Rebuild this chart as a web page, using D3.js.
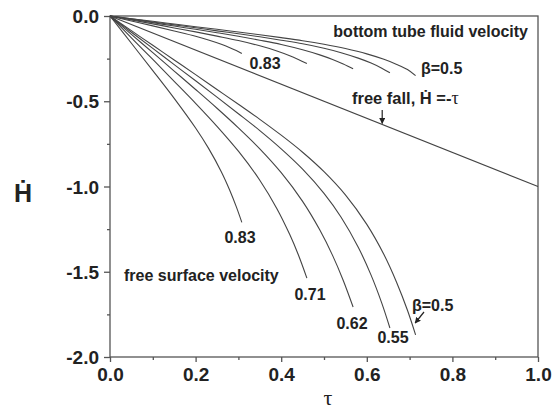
<!DOCTYPE html>
<html><head><meta charset="utf-8">
<script src="https://cdn.jsdelivr.net/npm/d3@7"></script>
<style>body{margin:0;background:#fff}svg{display:block}</style>
</head><body>
<svg id="c" width="559" height="410"></svg>
<script>
// ---- data ----
const betas = ["0.83", "0.71", "0.62", "0.55", "0.5"];
// free surface velocity curves [tau, Hdot]
const surf083 = [[0,0],[0.05,-0.160],[0.1,-0.320],[0.15,-0.483],[0.2,-0.657],[0.23,-0.775],[0.26,-0.913],[0.28,-1.023],[0.295,-1.118],[0.308,-1.210]];
const surf071 = [[0,0],[0.05,-0.128],[0.1,-0.255],[0.15,-0.383],[0.2,-0.512],[0.25,-0.647],[0.3,-0.793],[0.35,-0.963],[0.39,-1.130],[0.42,-1.282],[0.44,-1.400],[0.46,-1.537]];
const surf062 = [[0,0],[0.05,-0.108],[0.1,-0.215],[0.15,-0.323],[0.2,-0.431],[0.25,-0.541],[0.3,-0.656],[0.35,-0.779],[0.4,-0.919],[0.45,-1.087],[0.49,-1.254],[0.52,-1.404],[0.545,-1.551],[0.568,-1.707]];
const surf055 = [[0,0],[0.05,-0.095],[0.1,-0.190],[0.15,-0.285],[0.2,-0.380],[0.25,-0.476],[0.3,-0.573],[0.35,-0.672],[0.4,-0.779],[0.45,-0.898],[0.5,-1.040],[0.54,-1.180],[0.58,-1.356],[0.61,-1.520],[0.635,-1.684],[0.654,-1.830]];
const surf050 = [[0,0],[0.05,-0.086],[0.1,-0.172],[0.15,-0.258],[0.2,-0.344],[0.25,-0.431],[0.3,-0.518],[0.35,-0.606],[0.4,-0.699],[0.45,-0.799],[0.5,-0.913],[0.55,-1.049],[0.6,-1.222],[0.64,-1.399],[0.67,-1.564],[0.695,-1.726],[0.714,-1.870]];
// bottom tube fluid velocity curves
const bot083 = [[0,0],[0.05,-0.029],[0.1,-0.058],[0.15,-0.088],[0.2,-0.119],[0.23,-0.141],[0.26,-0.166],[0.28,-0.186],[0.295,-0.203],[0.308,-0.220]];
const bot071 = [[0,0],[0.05,-0.023],[0.1,-0.046],[0.15,-0.070],[0.2,-0.093],[0.25,-0.118],[0.3,-0.144],[0.35,-0.175],[0.39,-0.205],[0.42,-0.233],[0.44,-0.255],[0.46,-0.279]];
const bot062 = [[0,0],[0.05,-0.020],[0.1,-0.039],[0.15,-0.059],[0.2,-0.078],[0.25,-0.098],[0.3,-0.119],[0.35,-0.142],[0.4,-0.167],[0.45,-0.198],[0.49,-0.228],[0.52,-0.255],[0.545,-0.282],[0.568,-0.310]];
const bot055 = [[0,0],[0.05,-0.017],[0.1,-0.035],[0.15,-0.052],[0.2,-0.069],[0.25,-0.087],[0.3,-0.104],[0.35,-0.122],[0.4,-0.142],[0.45,-0.163],[0.5,-0.189],[0.54,-0.215],[0.58,-0.247],[0.61,-0.276],[0.635,-0.306],[0.654,-0.333]];
const bot050 = [[0,0],[0.05,-0.016],[0.1,-0.031],[0.15,-0.047],[0.2,-0.063],[0.25,-0.078],[0.3,-0.094],[0.35,-0.110],[0.4,-0.127],[0.45,-0.145],[0.5,-0.166],[0.55,-0.191],[0.6,-0.222],[0.64,-0.254],[0.67,-0.284],[0.695,-0.314],[0.714,-0.350]];
// free fall line Hdot = -tau
const freeFall = [[0,0],[1,-1]];
const xTicks = [0, 0.2, 0.4, 0.6, 0.8, 1.0];
const xMinor = [0.1, 0.3, 0.5, 0.7, 0.9];
const yTicks = [0, -0.5, -1.0, -1.5, -2.0];
const yMinor = [-0.25, -0.75, -1.25, -1.75];

// ---- layout ----
const svg = d3.select("#c");
const L = 110, R = 538, T = 16, B = 357;
const x = d3.scaleLinear().domain([0, 1]).range([L, R]);
const y = d3.scaleLinear().domain([0, -2]).range([T, B]);
const ink = "#222", lineC = "#444";
const font = "'Liberation Sans', Arial, sans-serif";
const fmt = d => d3.format(".1f")(d).replace("\u2212", "-");

// frame
svg.append("rect").attr("x", L).attr("y", T).attr("width", R - L).attr("height", B - T)
  .attr("fill", "none").attr("stroke", "#555").attr("stroke-width", 1.3);

// axes
const xAx = svg.append("g").attr("transform", `translate(0,${B})`)
  .call(d3.axisBottom(x).tickValues(xTicks).tickFormat(fmt).tickSize(5).tickPadding(6));
const xAxm = svg.append("g").attr("transform", `translate(0,${B})`)
  .call(d3.axisBottom(x).tickValues(xMinor).tickFormat("").tickSize(3));
const yAx = svg.append("g").attr("transform", `translate(${L},0)`)
  .call(d3.axisLeft(y).tickValues(yTicks).tickFormat(fmt).tickSize(6).tickPadding(5));
const yAxm = svg.append("g").attr("transform", `translate(${L},0)`)
  .call(d3.axisLeft(y).tickValues(yMinor).tickFormat("").tickSize(3));
[xAx, xAxm, yAx, yAxm].forEach(g => {
  g.select(".domain").remove();
  g.selectAll("line").attr("stroke", "#555").attr("stroke-width", 1.3);
  g.selectAll("text").attr("fill", ink).attr("font-family", font).attr("font-weight", "bold").attr("font-size", 19);
});
xAx.selectAll("text").attr("dy", "0.68em");
yAx.selectAll("text").attr("dy", "0.35em");

// curves
const line = d3.line().x(d => x(d[0])).y(d => y(d[1])).curve(d3.curveCatmullRom.alpha(0.5));
const series = [surf083, surf071, surf062, surf055, surf050, bot083, bot071, bot062, bot055, bot050, freeFall];
svg.append("g").selectAll("path").data(series).join("path")
  .attr("d", line).attr("fill", "none").attr("stroke", lineC).attr("stroke-width", 1.1);

// text helpers
function label(txt, px, py, size, anchor) {
  return svg.append("text").attr("x", px).attr("y", py).text(txt)
    .attr("font-family", font).attr("font-weight", "bold").attr("font-size", size)
    .attr("fill", ink).attr("text-anchor", anchor || "middle");
}
label("bottom tube fluid velocity", 528, 37, 16, "end");
label("free surface velocity", 124, 281, 16, "start");
// upper beta labels
label(betas[0], 265, 69, 16);
label("\u03B2=0.5", 421, 74, 16, "start");
// lower beta labels
label(betas[0], 240, 243, 16);
label(betas[1], 310, 300, 16);
label(betas[2], 352, 329, 16);
label(betas[3], 393, 343, 16);
label("\u03B2=0.5", 412, 311, 16, "start");

// free fall label
const ff = svg.append("text").attr("x", 352).attr("y", 104)
  .attr("font-family", font).attr("font-weight", "bold").attr("font-size", 16.5).attr("fill", ink);
ff.append("tspan").text("free fall, \u1E22 =-");
ff.append("tspan").text("\u03C4").attr("font-weight", "normal").attr("font-size", 18).attr("font-family", "'Liberation Serif', serif");

// arrows
svg.append("defs").append("marker").attr("id", "ah").attr("viewBox", "0 0 10 10")
  .attr("refX", 9).attr("refY", 5).attr("markerWidth", 5).attr("markerHeight", 5).attr("orient", "auto")
  .append("path").attr("d", "M0,0L10,5L0,10z").attr("fill", ink);
svg.append("line").attr("x1", x(0.636)).attr("y1", 110).attr("x2", x(0.636)).attr("y2", y(-0.636) - 1)
  .attr("stroke", ink).attr("stroke-width", 1.2).attr("marker-end", "url(#ah)");
svg.append("line").attr("x1", 424).attr("y1", 312).attr("x2", x(0.713)).attr("y2", 323)
  .attr("stroke", ink).attr("stroke-width", 1.2).attr("marker-end", "url(#ah)");

// axis titles
svg.append("text").attr("x", 23).attr("y", 202).text("\u1E22")
  .attr("font-family", font).attr("font-weight", "bold").attr("font-size", 25)
  .attr("fill", ink).attr("text-anchor", "middle");
svg.append("text").attr("x", 328).attr("y", 405).text("\u03C4")
  .attr("font-family", "'Liberation Serif', serif").attr("font-size", 22)
  .attr("fill", ink).attr("text-anchor", "middle");
</script>
</body></html>
